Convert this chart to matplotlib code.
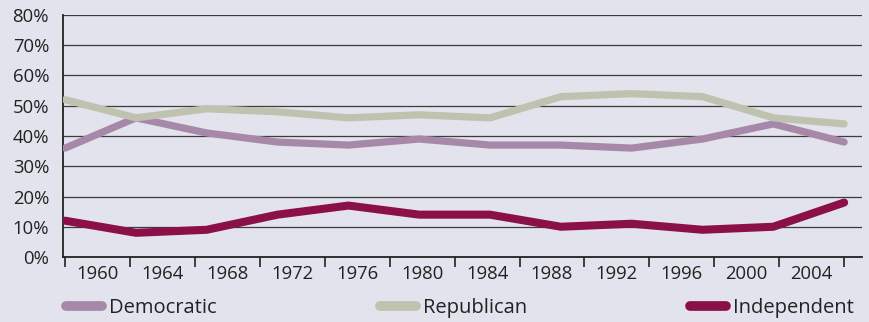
import matplotlib
matplotlib.use("Agg")
import matplotlib.pyplot as plt
import numpy as np

# share of respondents by party identification (survey points, ~1958-2006)
democratic = [36, 46, 41, 38, 37, 39, 37, 37, 36, 39, 44, 38]
republican = [52, 46, 49, 48, 46, 47, 46, 53, 54, 53, 46, 44]
independent = [12, 8, 9, 14, 17, 14, 14, 10, 11, 9, 10, 18]

year_labels = [1960, 1964, 1968, 1972, 1976, 1980, 1984, 1988, 1992, 1996, 2000, 2004]
first_year, last_year = 1958, 2006

bg = "#e2e3ec"
colors = {"Democratic": "#a888a8", "Republican": "#bec2ae", "Independent": "#8b1048"}

plt.rcParams["font.family"] = ["Open Sans", "DejaVu Sans"]

fig = plt.figure(figsize=(8.7, 3.22), dpi=100, facecolor=bg)
ax = fig.add_axes([63 / 870, 1 - 257 / 322, (862 - 63) / 870, (257 - 15) / 322])
ax.set_facecolor(bg)

n = len(democratic)
idx = np.arange(n)


def year_to_idx(y):
    return (np.asarray(y) - first_year) / (last_year - first_year) * (n - 1)


for name, vals, lw in [("Democratic", democratic, 5.2),
                       ("Republican", republican, 5.2),
                       ("Independent", independent, 5.8)]:
    ax.plot(idx, vals, color=colors[name], lw=lw, solid_capstyle="round",
            solid_joinstyle="round", label=name, zorder=3)

ax.set_ylim(0, 80)
ax.set_xlim(-0.03, year_to_idx(2007.1))
ax.set_yticks(range(0, 81, 10))
ax.set_yticklabels([f"{v}%" for v in range(0, 81, 10)])
for v in range(10, 81, 10):
    ax.axhline(v, color="#3c3c3c", lw=0.9, zorder=1)

# tick marks at the year boundaries, labels centred between them
bounds = np.arange(first_year, last_year + 1, 4)
ax.set_xticks(year_to_idx(bounds))
ax.set_xticklabels([])
ax.set_xticks(year_to_idx(np.array(year_labels)), minor=True)
ax.set_xticklabels([str(y) for y in year_labels], minor=True)
ax.tick_params(axis="x", which="major", direction="out", length=7, width=1.2, color="#222")
ax.tick_params(axis="x", which="minor", length=0, pad=6, labelsize=13.3, labelcolor="#222")
ax.tick_params(axis="y", length=0, pad=10, labelsize=13.3, labelcolor="#222")

for s in ["top", "right"]:
    ax.spines[s].set_visible(False)
for s in ["left", "bottom"]:
    ax.spines[s].set_color("#222")
    ax.spines[s].set_linewidth(1.3)

handles, labels = ax.get_legend_handles_labels()
leg = fig.legend(handles, labels, loc="lower left", ncol=3, mode="expand",
                 bbox_to_anchor=(64 / 870, 0.005, (856 - 64) / 870, 0.09),
                 frameon=False, fontsize=14.5, handlelength=1.8, handletextpad=0.35,
                 borderaxespad=0, borderpad=0.1)
for t in leg.get_texts():
    t.set_color("#222")
for h in leg.get_lines():
    h.set_linewidth(7)
    h.set_solid_capstyle("round")

fig.savefig("out.png", dpi=100, facecolor=bg)
